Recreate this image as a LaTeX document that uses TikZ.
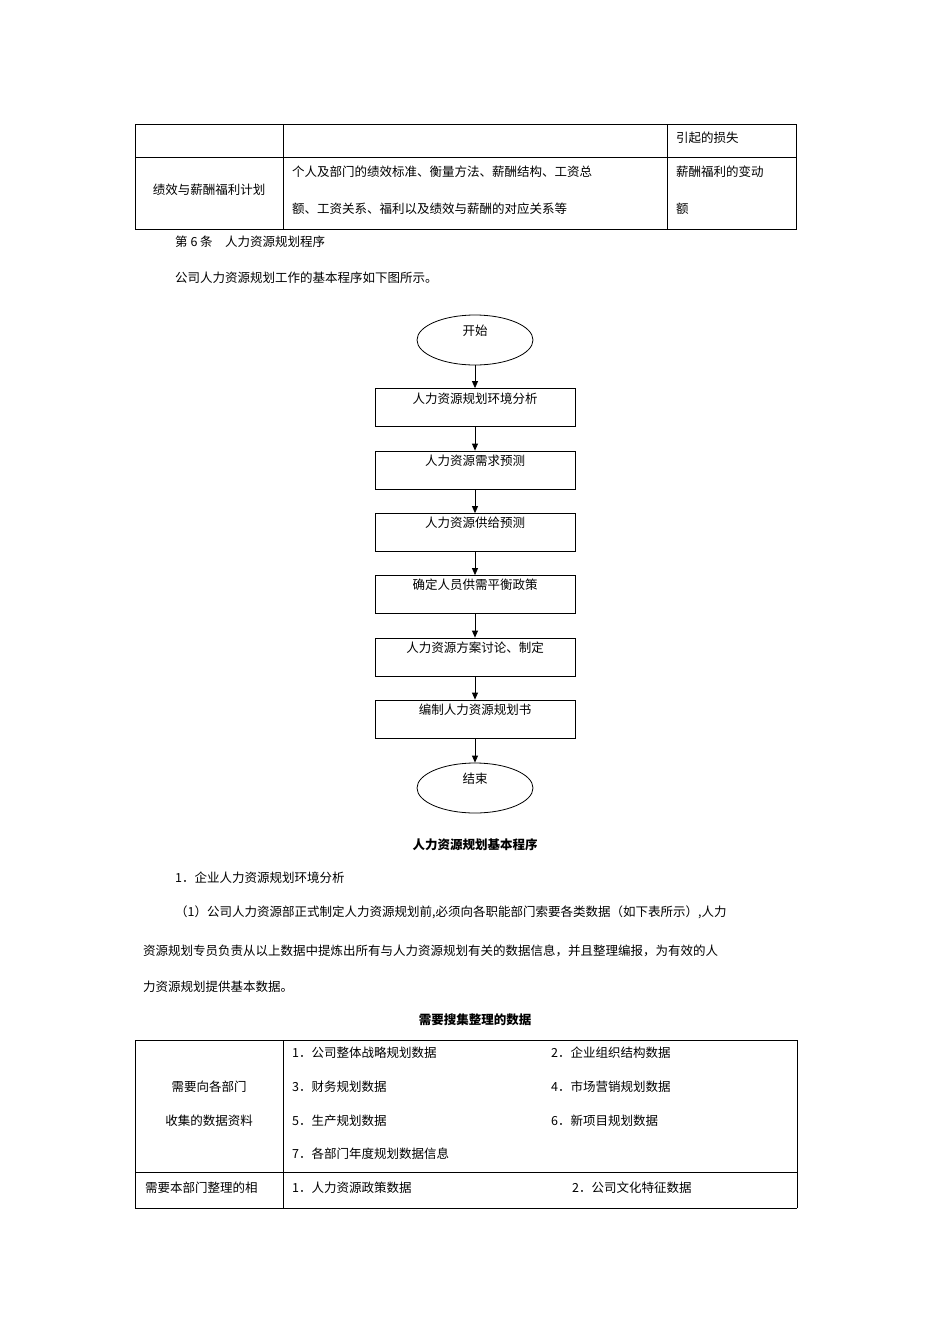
\documentclass[tikz,border=0pt]{standalone}
\usepackage{fontspec}
\setmainfont{Noto Sans CJK SC}
\usetikzlibrary{arrows.meta,shapes.geometric}
\begin{document}
\begin{tikzpicture}[x=1pt,y=-1pt,
  txt/.style={inner sep=0pt,font=\fontsize{12.5}{14}\selectfont},
  lt/.style={txt,anchor=west},
  captxt/.style={inner sep=0pt,font=\fontsize{12.5}{14}\selectfont\bfseries},
  grid/.style={line width=0.7pt},
  stepbox/.style={draw,line width=0.8pt,minimum width=200pt,minimum height=38pt,inner sep=0pt},
  term/.style={draw,ellipse,line width=0.8pt,minimum width=116pt,minimum height=50pt,inner sep=0pt},
  arr/.style={-{Triangle[length=7pt,width=6pt]},line width=0.8pt}]
\useasboundingbox (0,0) rectangle (950,1344);
% top table
\draw[grid] (135,124) rectangle (796,229);
\draw[grid] (135,157) -- (796,157);
\draw[grid] (283,124) -- (283,229);
\draw[grid] (667,124) -- (667,229);
\node[lt] (t1) at (676,138) {引起的损失};
\node[txt] (t2) at (209,190) {绩效与薪酬福利计划};
\node[lt] (t3) at (292,172) {个人及部门的绩效标准、衡量方法、薪酬结构、工资总};
\node[lt] (t4) at (292,209) {额、工资关系、福利以及绩效与薪酬的对应关系等};
\node[lt] (t5) at (676,172) {薪酬福利的变动};
\node[lt] (t6) at (676,209) {额};
\node[lt] (h1) at (175,242) {第 6 条\quad 人力资源规划程序};
\node[lt] (h2) at (175,278) {公司人力资源规划工作的基本程序如下图所示。};
% flowchart
\node[term] (s) at (475,340) {};
\node[txt] at (475,331) {开始};
\node[stepbox] (b1) at (475,407.5) {}; \node[txt] at (475,399) {人力资源规划环境分析};
\node[stepbox] (b2) at (475,470) {}; \node[txt] at (475,461) {人力资源需求预测};
\node[stepbox] (b3) at (475,532.5) {}; \node[txt] at (475,523) {人力资源供给预测};
\node[stepbox] (b4) at (475,594.5) {}; \node[txt] at (475,585) {确定人员供需平衡政策};
\node[stepbox] (b5) at (475,657) {}; \node[txt] at (475,648) {人力资源方案讨论、制定};
\node[stepbox] (b6) at (475,719) {}; \node[txt] at (475,710) {编制人力资源规划书};
\node[term] (e) at (475,788) {};
\node[txt] at (475,779) {结束};
\draw[arr] (s) -- (b1);
\draw[arr] (b1) -- (b2);
\draw[arr] (b2) -- (b3);
\draw[arr] (b3) -- (b4);
\draw[arr] (b4) -- (b5);
\draw[arr] (b5) -- (b6);
\draw[arr] (b6) -- (e);
\node[captxt] (c1) at (475,845) {人力资源规划基本程序};
\node[lt] (p0) at (175,878) {1．企业人力资源规划环境分析};
\node[lt] (p1) at (175,912) {（1）公司人力资源部正式制定人力资源规划前,必须向各职能部门索要各类数据（如下表所示）,人力};
\node[lt] (p2) at (143,951) {资源规划专员负责从以上数据中提炼出所有与人力资源规划有关的数据信息，并且整理编报，为有效的人};
\node[lt] (p3) at (143,987) {力资源规划提供基本数据。};
\node[captxt] (c2) at (475,1020) {需要搜集整理的数据};
% bottom table
\draw[grid] (135,1208) -- (135,1040) -- (797,1040) -- (797,1208);
\draw[grid] (135,1172) -- (797,1172);
\draw[grid] (135,1208) -- (797,1208);
\draw[grid] (283,1040) -- (283,1208);
\node[txt] (l1) at (209,1087) {需要向各部门};
\node[txt] (l2) at (209,1121) {收集的数据资料};
\node[lt] (i1) at (292,1053) {1．公司整体战略规划数据};
\node[lt] (i2) at (551,1053) {2．企业组织结构数据};
\node[lt] (i3) at (292,1087) {3．财务规划数据};
\node[lt] (i4) at (551,1087) {4．市场营销规划数据};
\node[lt] (i5) at (292,1121) {5．生产规划数据};
\node[lt] (i6) at (551,1121) {6．新项目规划数据};
\node[lt] (i7) at (292,1154) {7．各部门年度规划数据信息};
\node[lt] (l3) at (145,1188) {需要本部门整理的相};
\node[lt] (i8) at (292,1188) {1．人力资源政策数据};
\node[lt] (i9) at (572,1188) {2．公司文化特征数据};
\end{tikzpicture}
\end{document}
